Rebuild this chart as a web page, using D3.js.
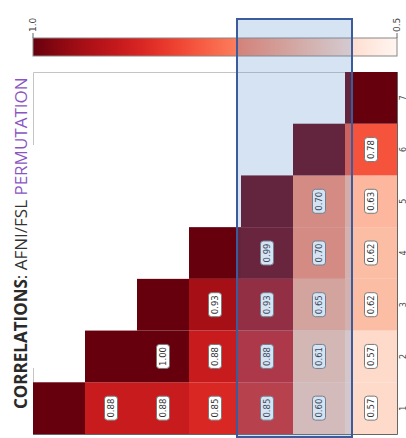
<!DOCTYPE html>
<html>
<head>
<meta charset="utf-8">
<script src="https://cdn.jsdelivr.net/npm/d3@7"></script>
<style>
  html, body { margin: 0; padding: 0; background: #fff; }
  svg { display: block; }
</style>
</head>
<body>
<svg id="chart" width="406" height="438"></svg>
<script>
// ---- data ----
const rowLabels = ["1", "2", "3", "4", "5", "6", "7"];
const colLabels = ["1", "2", "3", "4", "5", "6", "7"];
// each row lists values from its diagonal cell to column 7
const row1 = [1.0, 0.88, 0.88, 0.85, 0.85, 0.60, 0.57];
const row2 = [1.0, 1.00, 0.88, 0.88, 0.61, 0.57];
const row3 = [1.0, 0.93, 0.93, 0.65, 0.62];
const row4 = [1.0, 0.99, 0.70, 0.62];
const row5 = [1.0, 0.70, 0.63];
const row6 = [1.0, 0.78];
const row7 = [1.0];
const rows = [row1, row2, row3, row4, row5, row6, row7];
const colorbarTicks = [1.0, 0.5];
const highlightCols = ["5", "6"];
const titleParts = [
  { text: "CORRELATIONS", weight: 700, color: "#2a2a2a" },
  { text: ": AFNI/FSL ", weight: 400, color: "#333" },
  { text: "PERMUTATION", weight: 400, color: "#8a55c2" }
];

// build cell table
const cells = [];
rows.forEach((vals, i) => {
  vals.forEach((v, k) => {
    const j = i + k;
    cells.push({ row: rowLabels[i], col: colLabels[j], value: v, diag: k === 0 });
  });
});

const svg = d3.select("#chart");
const gLeft = 33, gRight = 397, gTop = 72, gBottom = 434;

const x = d3.scaleBand().domain(colLabels).range([gLeft, gRight]);
const y = d3.scaleBand().domain(rowLabels).range([gBottom, gTop]);
const color = d3.scaleSequential(d3.interpolateReds).domain([0.5, 1.0]);

// faint frame remnants
svg.append("path")
  .attr("d", `M${gLeft + 0.5},${gTop + 73}V${gTop + 0.5}H${x("7")}M${gLeft + 0.5},${gBottom - 66}V${gBottom}`)
  .attr("fill", "none").attr("stroke", "#c4c4c4").attr("stroke-width", 1);

// cells
svg.append("g").selectAll("rect").data(cells).join("rect")
  .attr("x", d => x(d.col))
  .attr("y", d => y(d.row))
  .attr("width", x.bandwidth())
  .attr("height", y.bandwidth())
  .attr("fill", d => color(d.value));

// value labels
const lab = svg.append("g").selectAll("g").data(cells.filter(d => !d.diag)).join("g")
  .attr("transform", d => `translate(${x(d.col) + x.bandwidth() / 2},${y(d.row) + y.bandwidth() / 2}) rotate(-90)`);
lab.append("rect")
  .attr("x", -12).attr("y", -6.5).attr("width", 24).attr("height", 13)
  .attr("rx", 3).attr("fill", "#fff").attr("stroke", "#7a7a7a").attr("stroke-width", 1);
lab.append("text")
  .attr("text-anchor", "middle").attr("dy", "0.35em")
  .attr("font-family", "'DejaVu Sans', sans-serif").attr("font-size", 8.5)
  .attr("fill", "#333")
  .text(d => d3.format(".2f")(d.value));

// axis lines (right + bottom)
svg.append("path")
  .attr("d", `M${gRight + 0.5},${gTop}V${gBottom + 0.5}H${gLeft}`)
  .attr("fill", "none").attr("stroke", "#666").attr("stroke-width", 1);

// row tick labels (right side, at the window edge)
svg.append("g").selectAll("text").data(rowLabels).join("text")
  .attr("transform", d => `translate(${gRight + 8.5},${y(d) + y.bandwidth() / 2}) rotate(-90)`)
  .attr("text-anchor", "middle")
  .attr("font-family", "'DejaVu Sans', sans-serif").attr("font-size", 8)
  .attr("fill", "#444")
  .text(d => d);

// colorbar
const cb = d3.scaleLinear().domain([1.0, 0.5]).range([gLeft, gRight]);
const defs = svg.append("defs");
const grad = defs.append("linearGradient").attr("id", "cbgrad")
  .attr("x1", "0%").attr("x2", "100%").attr("y1", "0%").attr("y2", "0%");
d3.range(0, 1.0001, 0.05).forEach(t => {
  grad.append("stop").attr("offset", (t * 100) + "%").attr("stop-color", color(cb.invert(gLeft + t * (gRight - gLeft))));
});
const cbTop = 38, cbH = 18;
svg.append("rect")
  .attr("x", gLeft).attr("y", cbTop).attr("width", gRight - gLeft).attr("height", cbH)
  .attr("fill", "url(#cbgrad)").attr("stroke", "#888").attr("stroke-width", 1);
const cbt = svg.append("g").selectAll("g").data(colorbarTicks).join("g")
  .attr("transform", d => `translate(${cb(d)},${cbTop})`);
cbt.append("line").attr("y1", -5).attr("y2", 0).attr("stroke", "#666");
cbt.append("text")
  .attr("transform", "translate(0,-6) rotate(-90)")
  .attr("dy", "0.35em")
  .attr("font-family", "'DejaVu Sans', sans-serif").attr("font-size", 9)
  .attr("fill", "#444")
  .text(d => d3.format(".1f")(d));

// title
const title = svg.append("text")
  .attr("transform", "translate(27,409) rotate(-90)")
  .attr("font-family", "'Open Sans', sans-serif").attr("font-size", 17);
title.selectAll("tspan").data(titleParts).join("tspan")
  .attr("font-weight", d => d.weight).attr("fill", d => d.color)
  .text(d => d.text);

// highlight overlay
const hx0 = x(highlightCols[0]) - 4, hx1 = x(highlightCols[1]) + x.bandwidth() + 7;
svg.append("rect")
  .attr("x", hx0).attr("y", 19).attr("width", hx1 - hx0).attr("height", 418)
  .attr("fill", "rgba(87,143,207,0.25)")
  .attr("stroke", "#3b5b9b").attr("stroke-width", 2);
</script>
</body>
</html>
